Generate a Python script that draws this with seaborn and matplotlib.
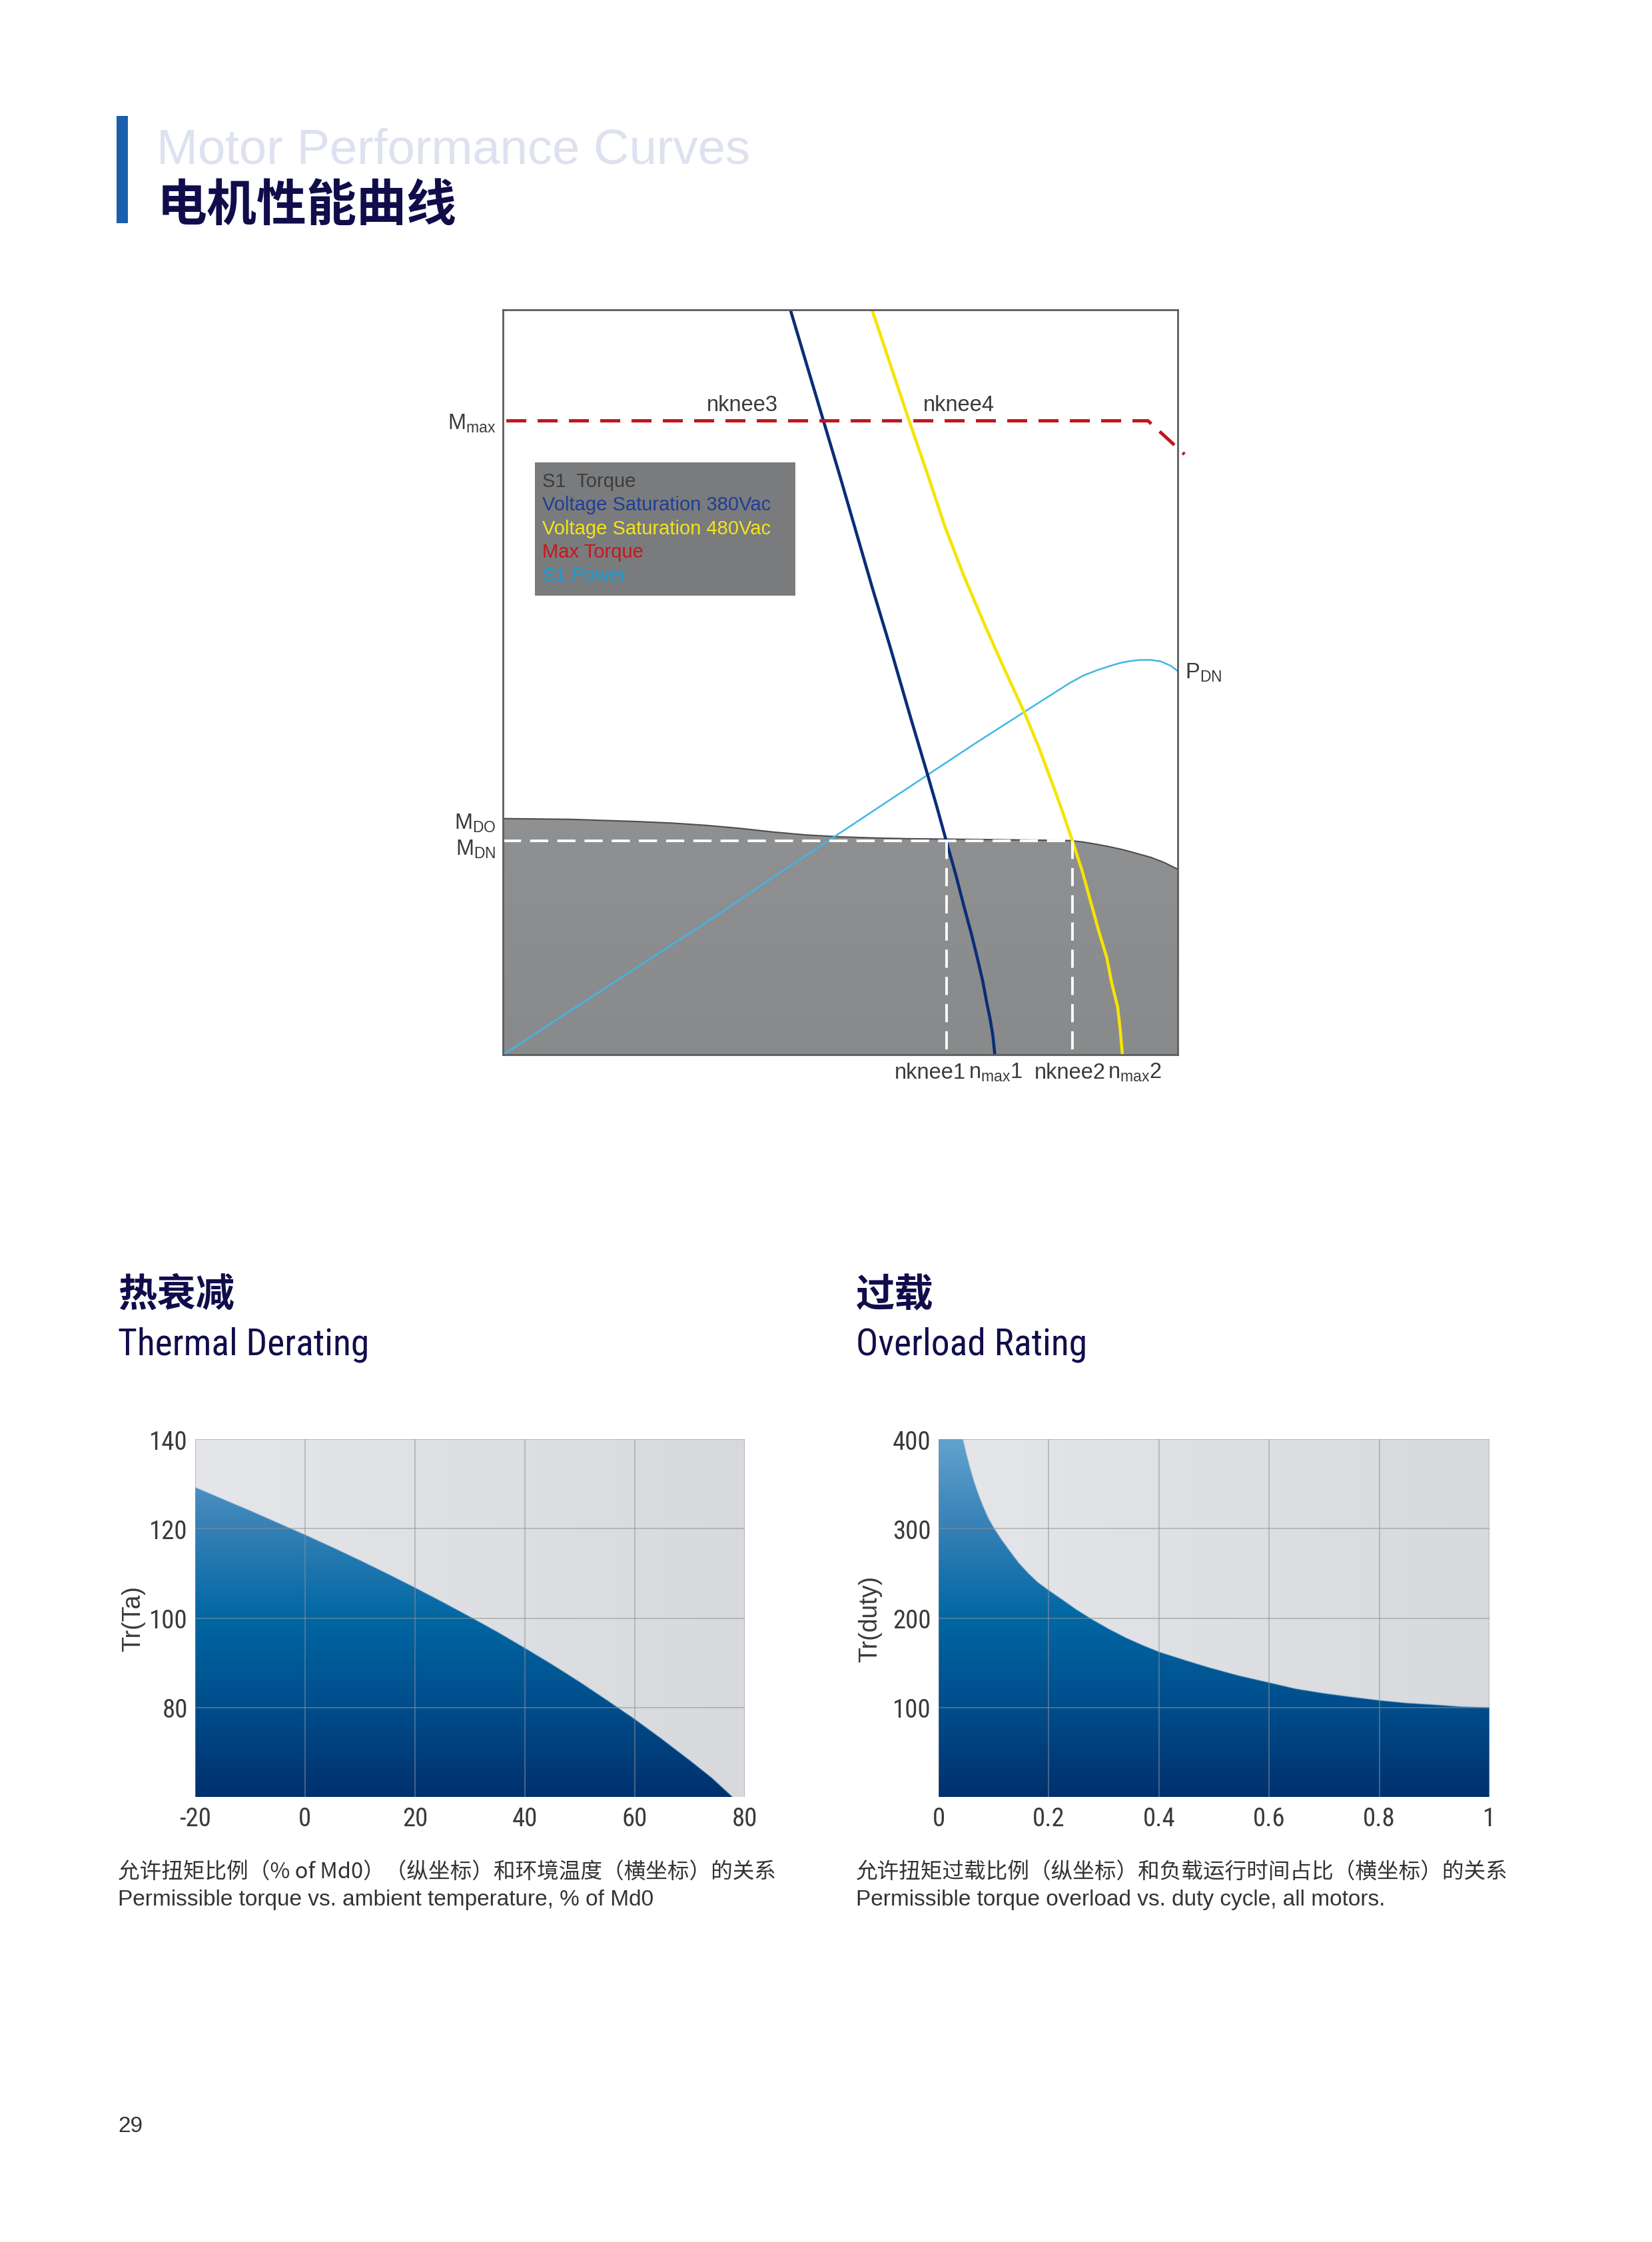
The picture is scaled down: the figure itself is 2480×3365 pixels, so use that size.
import numpy as np
import matplotlib
matplotlib.use('Agg')
import matplotlib.pyplot as plt
from matplotlib import font_manager
from matplotlib.colors import LinearSegmentedColormap
from matplotlib.patches import Rectangle
import seaborn as sns

# ---------------- data ----------------
# Top chart, both axes in % of the plotted span (the chart has no numeric scale)
torque_x = [0, 10, 20, 25, 30, 35, 40, 45, 50, 55, 60, 70, 80, 84, 86, 88, 90, 92, 94, 96, 98, 100]
torque_y = [31.7, 31.6, 31.3, 31.1, 30.8, 30.4, 29.9, 29.5, 29.25, 29.1, 29.0, 28.9, 28.8, 28.75,
            28.55, 28.25, 27.9, 27.5, 27.0, 26.5, 25.8, 24.9]

vs380_x = [42.6, 47.5, 50.0, 52.4, 54.8, 57.3, 60.5, 62.8, 64.3, 65.7, 67.1, 68.3, 69.4, 70.3,
           71.1, 71.7, 72.2, 72.6, 72.9]
vs380_y = [100, 85.1, 77.5, 70.0, 62.5, 55.0, 45.0, 38.0, 33.3, 28.7, 24.2, 20.0, 16.3, 13.0,
           9.9, 7.0, 4.8, 2.6, 0]

vs480_x = [54.7, 60.2, 62.9, 65.5, 68.3, 71.4, 74.3, 77.3, 79.4, 81.3, 82.9, 84.4, 85.9, 87.2,
           88.3, 89.5, 90.2, 91.1, 91.5, 91.8]
vs480_y = [100, 85.1, 78.0, 70.9, 64.3, 57.7, 51.8, 45.9, 41.3, 36.7, 32.7, 28.7, 24.5, 20.2,
           16.6, 13.0, 9.7, 6.4, 3.2, 0]

power_x = [0, 10, 20, 30, 40, 50, 60, 70, 80, 84, 86, 88, 90, 91.5, 93, 94.5, 96, 97.5, 99, 100]
power_y = [0, 5.9, 11.8, 17.7, 23.8, 29.8, 35.8, 41.8, 47.6, 49.9, 50.9, 51.6, 52.2, 52.6, 52.85,
           53.0, 53.0, 52.8, 52.2, 51.5]

mmax_x = [0.5, 95.6, 101.0]
mmax_y = [85.1, 85.1, 80.6]

m_dn = 28.7
nknee1 = 65.7
nknee2 = 84.4

legend_labels = ['S1  Torque', 'Voltage Saturation 380Vac', 'Voltage Saturation 480Vac',
                 'Max Torque', 'S1 Power']
legend_colors = ['#3d3d3d', '#1d3f95', '#f2e41b', '#c8161d', '#1a9bd7']

# Thermal derating: ambient temperature vs Tr(Ta) in % of Md0
temp = [-20, -15, -10, -5, 0, 5, 10, 15, 20, 25, 30, 35, 40, 45, 50, 55, 60, 65, 70, 74, 77.8]
tr_ta = [129.2, 126.6, 124.0, 121.3, 118.6, 115.8, 112.9, 109.9, 106.8, 103.6, 100.3, 96.9,
         93.3, 89.6, 85.7, 81.6, 77.4, 72.9, 68.2, 64.3, 60]

# Overload rating: duty cycle vs Tr(duty) in %
duty = [0, 0.044, 0.050, 0.056, 0.063, 0.070, 0.080, 0.090, 0.101, 0.115, 0.128, 0.145, 0.163,
        0.180, 0.200, 0.226, 0.249, 0.280, 0.310, 0.340, 0.371, 0.401, 0.447, 0.492, 0.546,
        0.599, 0.648, 0.698, 0.747, 0.800, 0.850, 0.903, 0.948, 1.0]
tr_duty = [400, 400, 384, 370, 355, 342, 326, 312, 300, 287, 276, 262, 250,
           240, 231, 220, 210, 198, 187.5, 178, 169.5, 162, 153, 144.5, 135.5,
           128, 121, 116, 112, 108, 105, 103, 101, 100]

thermal_xticks = [-20, 0, 20, 40, 60, 80]
thermal_yticks = [80, 100, 120, 140]
overload_xticks = [0, 0.2, 0.4, 0.6, 0.8, 1]
overload_xlabels = ['0', '0.2', '0.4', '0.6', '0.8', '1']
overload_yticks = [100, 200, 300, 400]

# ---------------- style ----------------
W, H = 2480, 3366
sns.set_theme(style='white')
plt.rcParams['font.family'] = ['Liberation Sans', 'Noto Sans CJK SC', 'DejaVu Sans']
plt.rcParams['mathtext.default'] = 'regular'


def pick_condensed():
    entries = font_manager.fontManager.ttflist
    for name in ['Liberation Sans Narrow', 'Arial Narrow', 'Roboto Condensed',
                 'Open Sans Condensed', 'Noto Sans Condensed']:
        if any(f.name == name for f in entries):
            return name, 'normal'
    for name in ['Noto Sans', 'Roboto', 'Open Sans', 'Liberation Sans']:
        if any(f.name == name and 'condensed' in str(f.stretch) for f in entries):
            return name, 'condensed'
    return 'Liberation Sans', 'normal'


NARROW, NARROW_STRETCH = pick_condensed()
CJK = ['Noto Sans CJK SC', 'Liberation Sans']
NAVY = '#110d4b'
TXT = '#3a3a3a'
BLUES = ['#00306e', '#004d8b', '#0067a3', '#3580b6', '#62a2cd']


def px(x, y):
    return x / W, 1 - y / H


def rect(left, top, right, bottom):
    return [left / W, 1 - bottom / H, (right - left) / W, (bottom - top) / H]


def gradient_fill(ax, x, y, y0, colors, extent, zorder=1):
    # fill under a curve with a vertical colour gradient
    poly = ax.fill_between(x, y, y0, facecolor='none', edgecolor='none')
    cmap = LinearSegmentedColormap.from_list('fill', colors)
    im = ax.imshow(np.linspace(0, 1, 256).reshape(-1, 1), cmap=cmap, origin='lower',
                   aspect='auto', extent=extent, zorder=zorder, interpolation='bilinear')
    im.set_clip_path(poly.get_paths()[0], transform=ax.transData)
    return im


fig = plt.figure(figsize=(W / 100, H / 100), dpi=100)
fig.patch.set_facecolor('white')

# ---------------- page header ----------------
fig.patches.append(Rectangle(px(175, 336), 17 / W, 161 / H, transform=fig.transFigure,
                             facecolor='#1b5eab', edgecolor='none'))
fig.text(*px(235, 246), 'Motor Performance Curves', fontsize=53.5, color='#dde1f0',
         ha='left', va='baseline')
fig.text(*px(236, 309), '电机性能曲线', fontsize=54, color=NAVY, fontweight='bold',
         family=CJK, ha='left', va='center')

# ---------------- top chart ----------------
ax = fig.add_axes(rect(755, 466, 1768, 1584))
ax.set_facecolor('white')
gradient_fill(ax, np.array(torque_x), np.array(torque_y), 0,
              ['#898a8c', '#9d9ea0'], [0, 100, 0, 100], zorder=1)
sns.lineplot(x=torque_x, y=torque_y, ax=ax, color='#4d4d4d', linewidth=1.5,
             estimator=None, sort=False, legend=False)

ax.plot([0, nknee2], [m_dn, m_dn], color='white', lw=2.8, dashes=(7, 3.5), zorder=3)
ax.plot([nknee1, nknee1], [m_dn, 0], color='white', lw=2.8, dashes=(7, 3.5), zorder=3)
ax.plot([nknee2, nknee2], [m_dn, 0], color='white', lw=2.8, dashes=(7, 3.5), zorder=3)

sns.lineplot(x=power_x, y=power_y, ax=ax, color='#41b6e6', linewidth=1.8,
             estimator=None, sort=False, legend=False)
sns.lineplot(x=vs380_x, y=vs380_y, ax=ax, color='#0b2d78', linewidth=3.3,
             estimator=None, sort=False, legend=False)
sns.lineplot(x=vs480_x, y=vs480_y, ax=ax, color='#f5e400', linewidth=3.3,
             estimator=None, sort=False, legend=False)
ax.plot(mmax_x, mmax_y, color='#c0161c', lw=3.6, dashes=(6, 3.4), clip_on=False, zorder=4)

# legend box
ax.add_patch(Rectangle((4.7, 61.6), 38.6, 17.9, facecolor='#7a7b7d', edgecolor='none', zorder=5))
for i, (lab, col) in enumerate(zip(legend_labels, legend_colors)):
    ax.text(5.8, 77.0 - i * 3.15, lab, color=col, fontsize=21, ha='left', va='center', zorder=6)

ax.text(35.5, 86.5, 'nknee3', fontsize=23.5, color=TXT, ha='center', va='baseline')
ax.text(67.6, 86.5, 'nknee4', fontsize=23.5, color=TXT, ha='center', va='baseline')
ax.text(-1.0, 84.0, 'M$_{max}$', fontsize=23.5, color=TXT, ha='right', va='baseline', clip_on=False)
ax.text(-1.0, 30.4, 'M$_{DO}$', fontsize=23.5, color=TXT, ha='right', va='baseline', clip_on=False)
ax.text(-1.0, 26.9, 'M$_{DN}$', fontsize=23.5, color=TXT, ha='right', va='baseline', clip_on=False)
ax.text(101.1, 51.4, 'P$_{DN}$', fontsize=23.5, color=TXT, ha='left', va='center', clip_on=False)

xt = ax.get_xaxis_transform()
for xpos, lab in [(63.3, 'nknee1'), (73.0, 'n$_{max}$1'), (84.0, 'nknee2'), (93.6, 'n$_{max}$2')]:
    ax.text(xpos, -0.031, lab, transform=xt, fontsize=23.5, color=TXT, ha='center', va='baseline')

ax.set_xlim(0, 100)
ax.set_ylim(0, 100)
ax.set_xticks([])
ax.set_yticks([])
for s in ax.spines.values():
    s.set_color('#5c5c5c')
    s.set_linewidth(2)
    s.set_zorder(7)

# ---------------- section headings ----------------
fig.text(*px(177, 1944), '热衰减', fontsize=42, fontweight='bold', color=NAVY, family=CJK,
         ha='left', va='center')
fig.text(*px(177, 2034), 'Thermal Derating', fontsize=40, color=NAVY, family=NARROW,
         fontstretch=NARROW_STRETCH, ha='left', va='baseline')
fig.text(*px(1285, 1944), '过载', fontsize=42, fontweight='bold', color=NAVY, family=CJK,
         ha='left', va='center')
fig.text(*px(1285, 2034), 'Overload Rating', fontsize=40, color=NAVY, family=NARROW,
         fontstretch=NARROW_STRETCH, ha='left', va='baseline')


def derating_panel(box, x, y, xlim, ylim, xticks, xlabels, yticks, ylabel, ylabel_x):
    ax = fig.add_axes(box)
    bg = LinearSegmentedColormap.from_list('bg', ['#e5e6e9', '#d8d9dc'])
    ax.imshow(np.linspace(0, 1, 256).reshape(1, -1), cmap=bg, aspect='auto',
              extent=[xlim[0], xlim[1], ylim[0], ylim[1]], zorder=0)
    gradient_fill(ax, np.array(x), np.array(y), ylim[0], BLUES,
                  [xlim[0], xlim[1], ylim[0], ylim[1]], zorder=1)
    sns.lineplot(x=x, y=y, ax=ax, color='#7fb0d6', linewidth=1.0, alpha=0.6,
                 estimator=None, sort=False, legend=False)
    ax.set_xlim(xlim)
    ax.set_ylim(ylim)
    ax.set_xticks(xticks)
    ax.set_xticklabels(xlabels)
    ax.set_yticks(yticks)
    ax.set_yticklabels([str(t) for t in yticks])
    ax.grid(True, color='#8f9297', lw=1.3, alpha=0.55)
    ax.set_axisbelow(False)
    ax.tick_params(length=0, labelsize=28, labelcolor=TXT)
    ax.tick_params(axis='y', pad=8)
    ax.tick_params(axis='x', pad=10)
    for lab in ax.get_xticklabels() + ax.get_yticklabels():
        lab.set_fontfamily(NARROW)
        lab.set_fontstretch(NARROW_STRETCH)
    for s in ax.spines.values():
        s.set_visible(False)
    ax.text(ylabel_x, 0.5, ylabel, transform=ax.transAxes, rotation=90, ha='center',
            va='center', fontsize=27, color=TXT)
    return ax


derating_panel(rect(293, 2161, 1118, 2698), temp, tr_ta, (-20, 80), (60, 140),
               thermal_xticks, [str(t) for t in thermal_xticks], thermal_yticks,
               'Tr(Ta)', -0.113)
derating_panel(rect(1409, 2161, 2236, 2698), duty, tr_duty, (0, 1), (0, 400),
               overload_xticks, overload_xlabels, overload_yticks,
               'Tr(duty)', -0.124)

# ---------------- captions ----------------
fig.text(*px(177, 2811), '允许扭矩比例（% of Md0）（纵坐标）和环境温度（横坐标）的关系',
         fontsize=23.5, color='#333333', family=CJK, ha='left', va='center')
fig.text(*px(177, 2852), 'Permissible torque vs. ambient temperature, % of Md0',
         fontsize=24, color='#333333', ha='left', va='center')
fig.text(*px(1285, 2811), '允许扭矩过载比例（纵坐标）和负载运行时间占比（横坐标）的关系',
         fontsize=23.5, color='#333333', family=CJK, ha='left', va='center')
fig.text(*px(1285, 2852), 'Permissible torque overload vs. duty cycle, all motors.',
         fontsize=24, color='#333333', ha='left', va='center')

fig.text(*px(177, 3192), '29', fontsize=24, color='#333333', ha='left', va='center')

fig.savefig('out.png', dpi=100, facecolor='white')
